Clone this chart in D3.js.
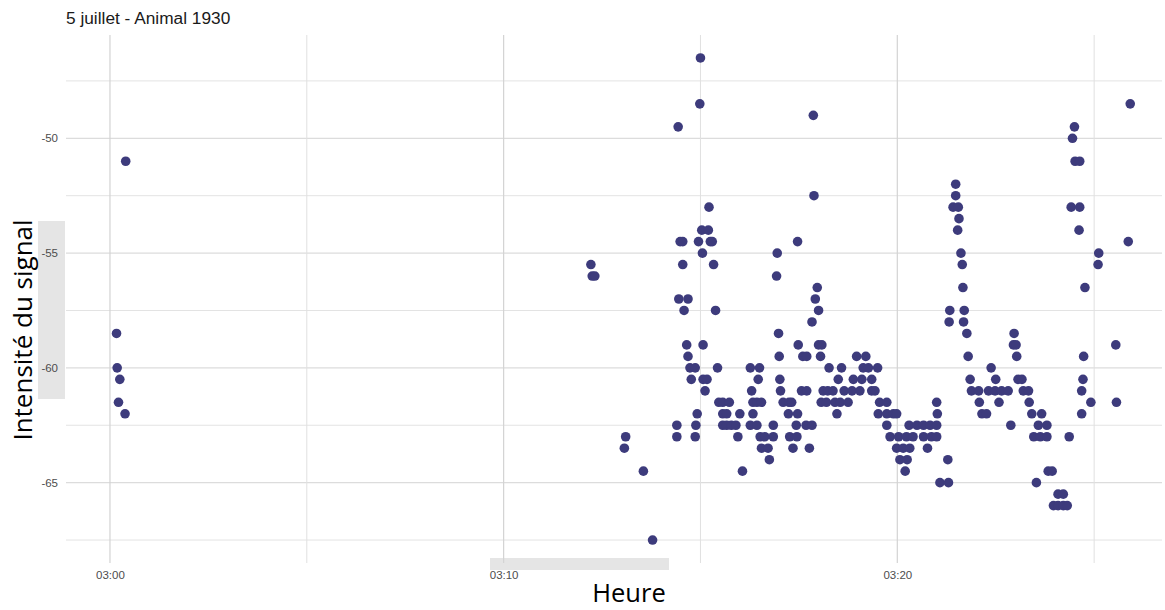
<!DOCTYPE html>
<html>
<head>
<meta charset="utf-8">
<script src="https://cdnjs.cloudflare.com/ajax/libs/d3/7.8.5/d3.min.js"></script>
<style>
	body { margin: 0; background: #fff; }
	svg { display: block; }
</style>
</head>
<body>
<div id="chart"></div>
<script>

// Donnees

var titre = "5 juillet - Animal 1930";
var titreX = "Heure";
var titreY = "Intensité du signal";

var yTicks = [-50, -55, -60, -65];
var xTicks = ["03:00:00", "03:10:00", "03:20:00"];
var xMinorTicks = ["03:05:00", "03:15:00", "03:25:00"];
var domaineX = ["02:58:53", "03:26:48"];
var domaineY = [-68.5, -45.5];

var heures = [
	"03:00:10", "03:00:11", "03:00:13", "03:00:15", "03:00:23", "03:00:24",
	"03:12:13", "03:12:15", "03:12:19", "03:13:04", "03:13:06", "03:13:33", "03:13:47",
	"03:14:24", "03:14:24", "03:14:26", "03:14:27", "03:14:29", "03:14:33", "03:14:33", "03:14:35",
	"03:14:39", "03:14:41", "03:14:41", "03:14:44", "03:14:46", "03:14:52", "03:14:52", "03:14:53",
	"03:14:55", "03:14:57", "03:14:59", "03:15:00", "03:15:02", "03:15:03", "03:15:04", "03:15:04",
	"03:15:07", "03:15:10", "03:15:12", "03:15:13", "03:15:15", "03:15:18", "03:15:20", "03:15:23",
	"03:15:26", "03:15:28", "03:15:34", "03:15:44", "03:15:34", "03:15:40", "03:15:34", "03:15:40",
	"03:15:47", "03:15:54", "03:16:00", "03:15:57", "03:16:04", "03:16:16", "03:16:30", "03:16:28",
	"03:16:18", "03:16:20", "03:16:26", "03:16:33", "03:16:20", "03:16:16", "03:16:26", "03:16:31",
	"03:16:38", "03:16:51", "03:16:33", "03:16:43", "03:16:45", "03:16:51", "03:16:57", "03:16:56",
	"03:16:59", "03:17:00", "03:17:01", "03:17:02", "03:17:06", "03:17:15", "03:17:19", "03:17:14",
	"03:17:28", "03:17:16", "03:17:27", "03:17:21", "03:17:26", "03:17:28", "03:17:29", "03:17:36",
	"03:17:42", "03:17:34", "03:17:42", "03:17:41", "03:17:50", "03:17:46", "03:17:52", "03:17:53",
	"03:17:58", "03:17:55", "03:18:00", "03:17:50", "03:18:00", "03:18:05", "03:18:03", "03:18:16",
	"03:18:07", "03:18:14", "03:18:22", "03:18:04", "03:18:12", "03:18:25", "03:18:33", "03:18:45",
	"03:18:28", "03:18:30", "03:18:35", "03:18:39", "03:18:51", "03:19:03", "03:18:53", "03:19:06",
	"03:19:21", "03:18:58", "03:19:12", "03:19:08", "03:19:16", "03:19:30", "03:19:21", "03:19:26",
	"03:19:33", "03:19:44", "03:19:31", "03:19:44", "03:19:54", "03:19:59", "03:19:44", "03:19:49",
	"03:20:02", "03:19:59", "03:20:09", "03:20:19", "03:20:04", "03:20:15", "03:20:12", "03:20:18",
	"03:20:14", "03:20:24", "03:20:40", "03:20:52", "03:21:00", "03:20:30", "03:20:40", "03:20:50",
	"03:21:00", "03:21:00", "03:21:01", "03:20:46", "03:21:17", "03:21:05", "03:21:18", "03:21:20",
	"03:21:19", "03:21:29", "03:21:29", "03:21:25", "03:21:33", "03:21:34", "03:21:32", "03:21:37",
	"03:21:39", "03:21:40", "03:21:42", "03:21:41", "03:21:46", "03:21:48", "03:21:51", "03:21:53",
	"03:22:04", "03:22:05", "03:22:09", "03:22:16", "03:22:23", "03:22:30", "03:22:19", "03:22:29",
	"03:22:39", "03:22:49", "03:22:35", "03:22:58", "03:22:57", "03:23:01", "03:23:02", "03:23:04",
	"03:23:10", "03:23:12", "03:23:20", "03:23:21", "03:23:25", "03:22:53", "03:23:40", "03:23:35",
	"03:23:48", "03:23:28", "03:23:38", "03:23:48", "03:23:50", "03:23:56", "03:23:32", "03:24:05",
	"03:24:13", "03:23:58", "03:24:05", "03:24:13", "03:24:19", "03:24:22", "03:24:30", "03:24:27",
	"03:24:31", "03:24:38", "03:24:25", "03:24:38", "03:24:37", "03:24:46", "03:24:44", "03:24:43",
	"03:24:41", "03:24:41", "03:24:55", "03:25:07", "03:25:06", "03:25:33", "03:25:34", "03:25:52",
	"03:25:55"
];

var intensites = [
	-58.5, -60, -61.5, -60.5, -62, -51,
	-55.5, -56, -56, -63.5, -63, -64.5, -67.5,
	-62.5, -63, -49.5, -57, -54.5, -54.5, -55.5, -57.5,
	-59, -57, -59.5, -60, -60.5, -60, -63, -62.5,
	-62, -54.5, -48.5, -46.5, -54, -55, -59, -60.5,
	-61, -60.5, -54, -53, -54.5, -54.5, -55.5, -57.5,
	-60, -61.5, -61.5, -61.5, -62, -62, -62.5, -62.5,
	-62.5, -62.5, -62, -63, -64.5, -60, -60, -60.5,
	-61, -61.5, -61.5, -61.5, -62, -62.5, -62.5, -63,
	-63, -63, -63.5, -63.5, -64, -62.5, -55, -56,
	-58.5, -59.5, -60.5, -61, -61.5, -61.5, -61.5, -62,
	-62, -63, -63, -63.5, -62.5, -54.5, -59, -59.5,
	-59.5, -61, -61, -62.5, -62.5, -63.5, -49, -52.5,
	-56.5, -57, -57.5, -58, -59, -59, -59.5, -60,
	-61, -61, -61, -61.5, -61.5, -61.5, -61.5, -61.5,
	-62, -60.5, -60, -61, -61, -61, -60.5, -60.5,
	-60.5, -59.5, -59.5, -60, -60, -60, -61, -61,
	-61.5, -61.5, -62, -62, -62, -62, -62.5, -63,
	-63, -63.5, -63.5, -63.5, -64, -64, -64.5, -62.5,
	-63, -63, -63, -63, -63, -62.5, -62.5, -62.5,
	-62.5, -61.5, -62, -63.5, -64, -65, -65, -57.5,
	-58, -52, -52.5, -53, -53, -53.5, -54, -55,
	-55.5, -56.5, -57.5, -58, -58.5, -59.5, -60.5, -61,
	-61, -61.5, -62, -62, -60, -60.5, -61, -61,
	-61, -61, -61.5, -58.5, -59, -59, -59.5, -60.5,
	-60.5, -61, -61, -61.5, -62, -62.5, -62, -62.5,
	-62.5, -63, -63, -63, -64.5, -64.5, -65, -65.5,
	-65.5, -66, -66, -66, -66, -63, -49.5, -50,
	-51, -51, -53, -53, -54, -56.5, -59.5, -60.5,
	-61, -62, -61.5, -55, -55.5, -59, -61.5, -54.5,
	-48.5
];

// Mise en page

var largeur = 1165, hauteur = 610;
var marge = { haut: 35, droite: 0, bas: 47, gauche: 66 };

var parseHeure = d3.timeParse("%H:%M:%S");

var dataset = heures.map(function (h, i) {
	return { heure: parseHeure(h), intensite: intensites[i] };
});

var svg = d3.select("#chart").append("svg")
	.attr("width", largeur)
	.attr("height", hauteur);

var x = d3.scaleTime()
	.domain(domaineX.map(parseHeure))
	.range([marge.gauche, largeur - marge.droite]);

var y = d3.scaleLinear()
	.domain(domaineY)
	.range([hauteur - marge.bas, marge.haut]);

// Fonds gris derriere les titres d'axes
svg.append("rect")
	.attr("x", 38).attr("y", 221)
	.attr("width", 27).attr("height", 178)
	.attr("fill", "#e5e5e5");

svg.append("rect")
	.attr("x", 490).attr("y", 558)
	.attr("width", 179).attr("height", 12)
	.attr("fill", "#e5e5e5");

// Grille

var minorY = d3.range(-67.5, -45, 5);

svg.append("g").selectAll("line.minor-y")
	.data(minorY)
	.enter().append("line")
	.attr("x1", marge.gauche).attr("x2", largeur - 3)
	.attr("y1", function (d) { return y(d); })
	.attr("y2", function (d) { return y(d); })
	.style("stroke", "#e3e3e3")
	.style("stroke-width", 1);

svg.append("g").selectAll("line.major-y")
	.data(yTicks)
	.enter().append("line")
	.attr("x1", marge.gauche).attr("x2", largeur - 3)
	.attr("y1", function (d) { return y(d); })
	.attr("y2", function (d) { return y(d); })
	.style("stroke", "#dcdcdc")
	.style("stroke-width", 1.2);

svg.append("g").selectAll("line.minor-x")
	.data(xMinorTicks.map(parseHeure))
	.enter().append("line")
	.attr("x1", function (d) { return x(d); })
	.attr("x2", function (d) { return x(d); })
	.attr("y1", marge.haut).attr("y2", hauteur - marge.bas)
	.style("stroke", "#e0e0e0")
	.style("stroke-width", 1);

svg.append("g").selectAll("line.major-x")
	.data(xTicks.map(parseHeure))
	.enter().append("line")
	.attr("x1", function (d) { return x(d); })
	.attr("x2", function (d) { return x(d); })
	.attr("y1", marge.haut).attr("y2", hauteur - marge.bas)
	.style("stroke", "#d3d3d3")
	.style("stroke-width", 1.2);

// Axes (texte seulement, comme theme_minimal)

var axeY = svg.append("g")
	.attr("transform", "translate(" + (marge.gauche - 5) + ",0)")
	.call(d3.axisLeft(y).tickValues(yTicks).tickSize(0).tickFormat(function (d) { return String(d); }));

var axeX = svg.append("g")
	.attr("transform", "translate(0," + (hauteur - marge.bas + 5) + ")")
	.call(d3.axisBottom(x).tickValues(xTicks.map(parseHeure)).tickSize(0).tickFormat(d3.timeFormat("%H:%M")));

[axeY, axeX].forEach(function (axe) {
	axe.select(".domain").remove();
	axe.selectAll("text")
		.style("font-family", "'Liberation Sans', Arial, sans-serif")
		.style("font-size", "11.5px")
		.style("fill", "#4d4d4d");
});

// Points

svg.append("g").selectAll("circle")
	.data(dataset)
	.enter().append("circle")
	.attr("cx", function (d) { return x(d.heure); })
	.attr("cy", function (d) { return y(d.intensite); })
	.attr("r", 4.8)
	.style("fill", "#3d3b7c");

// Titres

svg.append("text")
	.attr("x", 66).attr("y", 24)
	.style("font-family", "'Liberation Sans', Arial, sans-serif")
	.style("font-size", "17.3px")
	.style("fill", "#1a1a1a")
	.text(titre);

svg.append("text")
	.attr("transform", "translate(32,330) rotate(-90)")
	.attr("text-anchor", "middle")
	.style("font-family", "'Open Sans', 'Noto Sans', sans-serif")
	.style("font-size", "26px")
	.style("fill", "#000")
	.text(titreY);

svg.append("text")
	.attr("x", 629).attr("y", 602)
	.attr("text-anchor", "middle")
	.style("font-family", "'Open Sans', 'Noto Sans', sans-serif")
	.style("font-size", "25.5px")
	.style("fill", "#000")
	.text(titreX);

</script>
</body>
</html>
